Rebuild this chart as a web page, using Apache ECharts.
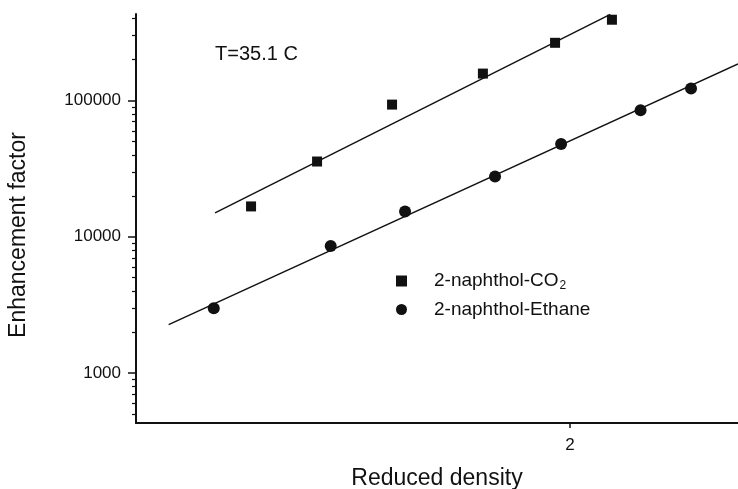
<!DOCTYPE html>
<html><head><meta charset="utf-8">
<script src="https://cdn.jsdelivr.net/npm/echarts@6/dist/echarts.min.js"></script>
<style>html,body{margin:0;padding:0;background:#fff}#c{width:738px;height:489px}</style>
</head><body><div id="c"></div>
<script>
// ---- data ----
const co2Density = [1.374, 1.485, 1.622, 1.805, 1.965, 2.101];
const co2Enhancement = [16700, 35700, 93500, 158000, 266000, 393000];
const ethaneDensity = [1.315, 1.509, 1.647, 1.831, 1.979, 2.173, 2.306];
const ethaneEnhancement = [2980, 8560, 15300, 27700, 48100, 84900, 123000];
const co2FitDensity = [1.317, 2.097];
const co2FitEnhancement = [15000, 430000];
const ethaneFitDensity = [1.247, 2.437];
const ethaneFitEnhancement = [2260, 186000];
const xTickValues = [2];
const yMajorTicks = [1000, 10000, 100000];
const yMinorTicks = [500, 600, 700, 800, 900,
  2000, 3000, 4000, 5000, 6000, 7000, 8000, 9000,
  20000, 30000, 40000, 50000, 60000, 70000, 80000, 90000,
  200000, 300000, 400000];
const xRange = [1.2, 2.437];
const yRange = [428, 433000];

const pairs = (xs, ys) => xs.map((x, i) => [x, ys[i]]);
const ink = '#111';
const font = '"Liberation Sans", Arial, Helvetica, sans-serif';

const chart = echarts.init(document.getElementById('c'));
chart.setOption({
  backgroundColor: '#fff',
  animation: false,
  textStyle: { fontFamily: font, color: ink },
  grid: { left: 136, right: 0, top: 14, bottom: 66, containLabel: false, outerBoundsMode: 'none' },
  xAxis: {
    type: 'log', logBase: 10, min: xRange[0], max: xRange[1],
    name: 'Reduced density', nameLocation: 'middle', nameGap: 44,
    nameTextStyle: { fontSize: 23, color: ink, fontFamily: font },
    axisLine: { show: true, lineStyle: { color: ink, width: 2 } },
    axisTick: { show: true, customValues: xTickValues, length: 5, lineStyle: { color: ink, width: 1.5 } },
    axisLabel: { customValues: xTickValues, formatter: v => String(Math.round(v * 100) / 100), fontSize: 17, color: ink, margin: 14, fontFamily: font },
    splitLine: { show: false }, minorTick: { show: false }
  },
  yAxis: [{
    type: 'log', logBase: 10, min: yRange[0], max: yRange[1], position: 'left',
    axisLine: { show: true, lineStyle: { color: ink, width: 2 } },
    axisTick: { show: true, customValues: yMajorTicks, length: 8, lineStyle: { color: ink, width: 1.5 } },
    axisLabel: { customValues: yMajorTicks, formatter: v => String(Math.round(v)), fontSize: 17, color: ink, margin: 15, fontFamily: font },
    splitLine: { show: false }
  }, {
    type: 'log', logBase: 10, min: yRange[0], max: yRange[1], position: 'left',
    axisLine: { show: false },
    axisTick: { show: true, customValues: yMinorTicks, length: 4, lineStyle: { color: ink, width: 1.2 } },
    axisLabel: { show: false },
    splitLine: { show: false }
  }],
  legend: {
    orient: 'vertical', left: 391, top: 265, itemGap: 8,
    itemWidth: 11, itemHeight: 11,
    data: ['2-naphthol-CO2', '2-naphthol-Ethane'],
    formatter: n => n === '2-naphthol-CO2' ? '{g|}{t|2-naphthol-CO}{s|2}' : '{g|}{t|2-naphthol-Ethane}',
    textStyle: {
      color: ink, fontFamily: font,
      rich: {
        g: { width: 22 },
        t: { fontSize: 19, lineHeight: 22, color: ink, fontFamily: font },
        s: { fontSize: 12, lineHeight: 22, color: ink, fontFamily: font, padding: [10, 0, 0, 1] }
      }
    }
  },
  graphic: [
    { type: 'text', left: 215, top: 44, style: { text: 'T=35.1 C', fontSize: 20, fill: ink, fontFamily: font } },
    { type: 'text', x: 19, y: 235, rotation: Math.PI / 2,
      style: { text: 'Enhancement factor', fontSize: 23, fill: ink, fontFamily: font, align: 'center', verticalAlign: 'middle' } }
  ],
  series: [
    { name: 'fitCO2', type: 'line', data: pairs(co2FitDensity, co2FitEnhancement), symbol: 'none', silent: true,
      lineStyle: { color: ink, width: 1.4 } },
    { name: 'fitEthane', type: 'line', data: pairs(ethaneFitDensity, ethaneFitEnhancement), symbol: 'none', silent: true,
      lineStyle: { color: ink, width: 1.4 } },
    { name: '2-naphthol-CO2', type: 'scatter', data: pairs(co2Density, co2Enhancement), symbol: 'rect', symbolSize: 10,
      itemStyle: { color: ink, opacity: 1 } },
    { name: '2-naphthol-Ethane', type: 'scatter', data: pairs(ethaneDensity, ethaneEnhancement), symbol: 'circle', symbolSize: 12,
      itemStyle: { color: ink, opacity: 1 } }
  ]
});
</script></body></html>
